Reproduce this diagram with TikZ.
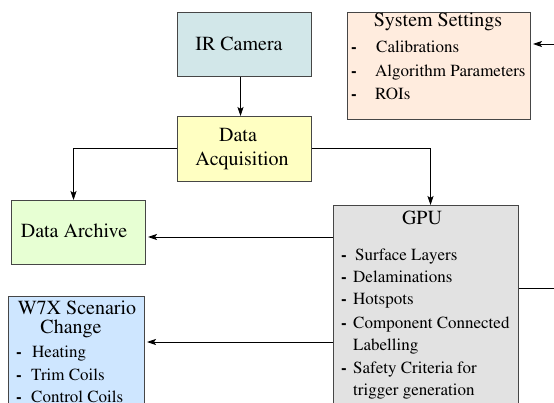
\documentclass[tikz,border=0pt]{standalone}
\usepackage[T1]{fontenc}
\usepackage{mathptmx}
\usetikzlibrary{arrows.meta}
\definecolor{camfill}{RGB}{210,231,233}
\definecolor{acqfill}{RGB}{255,255,194}
\definecolor{archfill}{RGB}{231,255,211}
\definecolor{gpufill}{RGB}{226,226,226}
\definecolor{w7xfill}{RGB}{206,230,255}
\definecolor{sysfill}{RGB}{255,236,222}
\definecolor{boxline}{RGB}{70,70,70}
\tikzset{
  box/.style={draw=boxline, line width=1pt, rectangle, inner sep=0pt, anchor=north west},
  titletext/.style={font=\rmfamily\fontsize{20}{22}\selectfont, inner sep=0pt, anchor=base},
  itemtext/.style={font=\rmfamily\fontsize{17}{19}\selectfont, inner sep=0pt, anchor=base west},
  dashmark/.style={font=\rmfamily\fontsize{17}{19}\selectfont\bfseries, inner sep=0pt, anchor=base west},
  conn/.style={draw=black, line width=0.8pt, -{Stealth[length=9pt,width=6pt,inset=2pt]}},
  plain/.style={draw=black, line width=0.8pt}
}
\begin{document}
\begin{tikzpicture}[x=1pt,y=-1pt]
\useasboundingbox (0,0) rectangle (554,403);
\clip (0,0) rectangle (554,403);
% boxes
\node[box, fill=camfill, minimum width=134pt, minimum height=64pt] (cam) at (177,12) {};
\node[box, fill=acqfill, minimum width=134pt, minimum height=65pt] (acq) at (177,116) {};
\node[box, fill=archfill, minimum width=134pt, minimum height=64pt] (arch) at (11,200) {};
\node[box, fill=gpufill, minimum width=185pt, minimum height=240pt] (gpu) at (333,205) {};
\node[box, fill=w7xfill, minimum width=136pt, minimum height=140pt] (w7x) at (8,296) {};
\node[box, fill=sysfill, minimum width=183pt, minimum height=107pt] (sys) at (347,12) {};
% texts
\node[titletext] (camT) at (239,51) {IR Camera};
\node[titletext] (acqT1) at (238,142) {Data};
\node[titletext] (acqT2) at (242,166) {Acquisition};
\node[titletext] (archT) at (74,238) {Data Archive};
\node[titletext] (gpuT) at (422,225) {GPU};
\node[titletext] (w7xT1) at (77,315) {W7X Scenario};
\node[titletext] (w7xT2) at (71,334) {Change};
\node[titletext] (sysT) at (438,27) {System Settings};
% system settings items
\node[dashmark] (sd1) at (351,53) {-};
\node[itemtext] (si1) at (376,53) {Calibrations};
\node[dashmark] (sd2) at (351,77) {-};
\node[itemtext] (si2) at (375,77) {Algorithm Parameters};
\node[dashmark] (sd3) at (351,100) {-};
\node[itemtext] (si3) at (375,100) {ROIs};
% gpu items
\node[dashmark] (gd1) at (341,261) {-};
\node[itemtext] (gi1) at (355,261) {Surface Layers};
\node[dashmark] (gd2) at (341,283) {-};
\node[itemtext] (gi2) at (353,283) {Delaminations};
\node[dashmark] (gd3) at (341,305) {-};
\node[itemtext] (gi3) at (353,305) {Hotspots};
\node[dashmark] (gd4) at (341,328) {-};
\node[itemtext] (gi4) at (353,328) {Component Connected};
\node[itemtext] (gi4b) at (353,350) {Labelling};
\node[dashmark] (gd5) at (341,373) {-};
\node[itemtext] (gi5) at (353,373) {Safety Criteria for};
\node[itemtext] (gi5b) at (353,395) {trigger generation};
% w7x items
\node[dashmark] (wd1) at (16,357) {-};
\node[itemtext] (wi1) at (32,357) {Heating};
\node[dashmark] (wd2) at (16,380) {-};
\node[itemtext] (wi2) at (31,380) {Trim Coils};
\node[dashmark] (wd3) at (16,402) {-};
\node[itemtext] (wi3) at (31,402) {Control Coils};
% free ends
\coordinate (gpuout) at (554,288);
\coordinate (sysin) at (554,44);
\coordinate (gpuA) at (333,237);
\coordinate (gpuW) at (333,342);
% connectors
\draw[conn] ([xshift=-4pt]cam.south) -- ([xshift=-4pt]acq.north);
\draw[conn] ([yshift=0.5pt]acq.west) -| ([xshift=-5pt]arch.north);
\draw[conn] ([yshift=0.5pt]acq.east) -| ([xshift=4.5pt]gpu.north);
\draw[conn, shorten >=2pt] (gpuA) -- (gpuA -| arch.east);
\draw[conn, shorten >=2pt] (gpuW) -- (gpuW -| w7x.east);
\draw[plain] (gpuout -| gpu.east) -- (gpuout);
\draw[conn, shorten >=2pt] (sysin) -- (sysin -| sys.east);
\end{tikzpicture}
\end{document}
